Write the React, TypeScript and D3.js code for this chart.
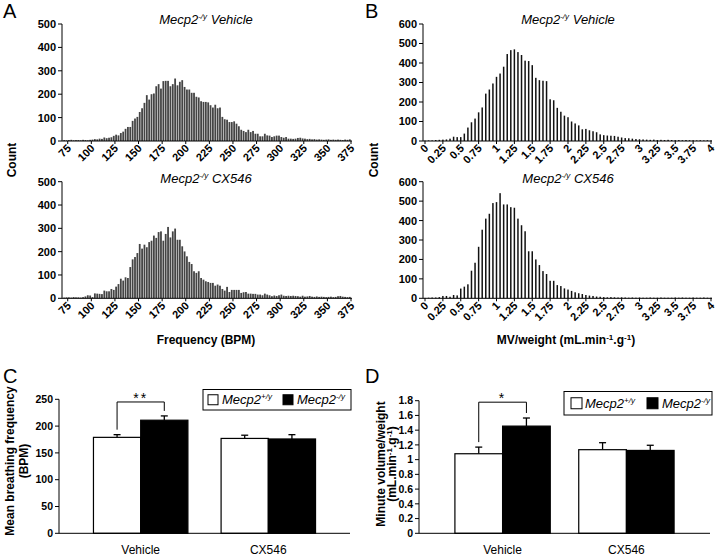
import React from 'react';
import * as d3 from 'd3';

const FONT = "Arial, 'Liberation Sans', Helvetica, sans-serif";

// ---- histogram data (A: breathing frequency, 2.5 BPM bins from 70) ----
const freqBinStart = 70;
const freqBinWidth = 2.5;
const freqTicks = [75, 100, 125, 150, 175, 200, 225, 250, 275, 300, 325, 350, 375];
const countTicksA = [0, 100, 200, 300, 400, 500];

const freqVehicle = [
  4, 3, 4, 5, 3, 4, 4, 3, 5, 4, 3, 5, 6,
  8, 7, 10, 9,
  15, 12, 14, 16, 22, 27, 24, 34, 40, 52, 60, 60,
  86, 96, 103, 124, 140, 163, 196, 177, 200, 203, 234, 243,
  224, 256, 257, 257, 234, 243, 267, 238, 253, 260, 231, 220,
  220, 206, 206, 189, 186, 170, 167, 167, 165, 153, 143, 155,
  140, 143, 103, 93, 91, 81, 81, 84, 74, 63, 48, 43,
  38, 48, 38, 43, 31, 31, 20, 20, 31, 24, 23, 17,
  20, 23, 23, 17, 14, 17, 10, 10, 9, 10, 13, 14,
  11, 10, 8, 9, 7, 8, 6, 7, 6, 5, 6, 7,
  5, 6, 5, 6, 5, 4, 6, 5, 7,
];

const freqCX546 = [
  3, 4, 4, 3, 5, 4, 4, 3, 5,
  8, 13, 12, 5, 21, 20, 19, 18, 33, 30, 30, 40,
  36, 50, 61, 84, 76, 90, 87, 134, 167, 177, 194, 233,
  213, 230, 219, 241, 247, 269, 259, 284, 287, 247, 276, 306,
  261, 287, 299, 251, 251, 223, 201, 180, 156, 147, 116, 109,
  116, 87, 80, 73, 70, 66, 66, 54, 59, 54, 40, 33,
  49, 27, 36, 36, 36, 36, 23, 26, 27, 20, 20, 19,
  19, 16, 16, 13, 20, 16, 13, 9, 12, 10, 13, 16,
  11, 10, 11, 10, 11, 10, 9, 7, 11, 7, 8, 10,
  7, 6, 8, 6, 7, 6, 5, 6, 7, 5, 6, 9,
  10, 7, 6, 5, 6,
];

// ---- histogram data (B: MV/weight, bins centred on multiples of 0.05) ----
const mvBinWidth = 0.05;
const mvTicks = [0, 0.25, 0.5, 0.75, 1, 1.25, 1.5, 1.75, 2, 2.25, 2.5, 2.75, 3, 3.25, 3.5, 3.75, 4];
const countTicksB = [0, 100, 200, 300, 400, 500, 600];

const mvVehicle = [
  2, 3, 3, 5, 6, 7, 8, 12, 22, 20, 20, 38,
  69, 96, 115, 147, 172, 243, 264, 295, 329, 346, 381, 446,
  466, 470, 456, 441, 412, 410, 389, 324, 312, 309, 307, 214,
  209, 170, 150, 130, 122, 100, 90, 80, 60, 62, 55, 50,
  45, 34, 30, 28, 27, 26, 22, 18, 15, 14, 12, 10,
  9, 8, 7, 6, 7, 5, 6, 5, 6, 5, 4, 5,
  4, 5, 4, 4, 3, 4, 3, 4, 3,
];

const mvCX546 = [
  2, 3, 4, 4, 6, 12, 12, 8, 17, 15, 50, 60,
  72, 142, 183, 265, 353, 410, 435, 490, 495, 541, 483, 483,
  469, 466, 410, 376, 345, 242, 242, 200, 171, 140, 125, 90,
  90, 68, 63, 51, 45, 38, 31, 26, 22, 17, 14, 12,
  9, 8, 6, 5, 6, 5, 4, 5, 4, 3, 4, 3,
  4, 3, 3, 4, 3, 3, 4, 3, 3, 3, 4, 3,
  4, 3, 3, 4, 3, 3, 4, 3, 3,
];

// ---- bar charts (C, D) ----
const treatments = ['Vehicle', 'CX546'];
const genotypes = ['wt', 'ko'];

const bpmWT = [179, 177];
const bpmKO = [211, 176];
const bpmWTErr = [5, 6];
const bpmKOErr = [8, 8];
const bpmTicks = [0, 50, 100, 150, 200, 250];
const bpmBracket = 245;

const mvWT = [1.08, 1.135];
const mvKO = [1.455, 1.125];
const mvWTErr = [0.09, 0.095];
const mvKOErr = [0.11, 0.07];
const mvYTicks = [0, 0.2, 0.4, 0.6, 0.8, 1, 1.2, 1.4, 1.6, 1.8];
const mvBracket = 1.78;

function Geno({ sign }: { sign: string }) {
  return (
    <>
      Mecp2<tspan dy={-5} fontSize="0.62em">{sign}/y</tspan>
    </>
  );
}

function Title({ x, y, label }: { x: number; y: number; label: string }) {
  return (
    <text x={x} y={y} textAnchor="middle" fontStyle="italic" fontSize={13}>
      Mecp2<tspan dy={-5} fontSize={8}>-/y</tspan>
      <tspan dy={5}> {label}</tspan>
    </text>
  );
}

type HistProps = {
  values: number[];
  center: (k: number) => number;
  xDomain: [number, number];
  xRange: [number, number];
  axisX: number;
  yMax: number;
  yTicks: number[];
  yRange: [number, number];
  xTicks: number[];
  barW: number;
  fill: string;
};

function Histogram(p: HistProps) {
  const x = d3.scaleLinear().domain(p.xDomain).range(p.xRange);
  const y = d3.scaleLinear().domain([0, p.yMax]).range(p.yRange);
  const y0 = y(0);
  return (
    <g>
      {p.values.map((v, k) => (
        <rect key={k} x={x(p.center(k)) - p.barW / 2} y={y(v)} width={p.barW} height={y0 - y(v)} fill={p.fill} />
      ))}
      <line x1={p.axisX} x2={p.axisX} y1={y0} y2={y(p.yMax)} stroke="#000" strokeWidth={1} />
      {p.yTicks.map((t) => (
        <g key={t}>
          <line x1={p.axisX - 4} x2={p.axisX} y1={y(t)} y2={y(t)} stroke="#000" />
          <text x={p.axisX - 6} y={y(t)} dy="0.36em" textAnchor="end" fontWeight="bold" fontSize={11}>
            {t}
          </text>
        </g>
      ))}
      <line x1={p.axisX} x2={p.xRange[1] + 1} y1={y0} y2={y0} stroke="#000" />
      {p.xTicks.map((t) => {
        const ax = x(t) + 4;
        const ay = y0 + 8;
        return (
          <g key={t}>
            <line x1={x(t)} x2={x(t)} y1={y0} y2={y0 + 3} stroke="#000" />
            <text transform={`rotate(-45, ${ax}, ${ay})`} x={ax} y={ay} textAnchor="end" fontWeight="bold" fontSize={11}>
              {t}
            </text>
          </g>
        );
      })}
    </g>
  );
}

type BarProps = {
  wt: number[];
  ko: number[];
  wtErr: number[];
  koErr: number[];
  axisX: number;
  xEnd: number;
  yRange: [number, number];
  yMax: number;
  yTicks: number[];
  padInner: number;
  padOuter: number;
  bracket: number;
  stars: string;
  box: [number, number, number, number];
  sq: [number, number, number];
  sqSize: number;
};

function BarPanel(p: BarProps) {
  const x = d3.scaleBand<string>().domain(treatments).range([p.axisX, p.xEnd]).paddingInner(p.padInner).paddingOuter(p.padOuter);
  const xs = d3.scaleBand<string>().domain(genotypes).range([0, x.bandwidth()]);
  const y = d3.scaleLinear().domain([0, p.yMax]).range(p.yRange);
  const y0 = y(0);
  const bw = xs.bandwidth();
  const rows = treatments.map((t, i) => ({
    t,
    vals: [
      { g: 'wt', v: p.wt[i], e: p.wtErr[i] },
      { g: 'ko', v: p.ko[i], e: p.koErr[i] },
    ],
  }));
  const lx = (x('Vehicle') ?? 0) + (xs('wt') ?? 0) + bw / 2;
  const rx = (x('Vehicle') ?? 0) + (xs('ko') ?? 0) + bw / 2;
  const yTop = y(p.bracket);
  const [bx0, by0, bx1, by1] = p.box;
  const cy = (by0 + by1) / 2;
  return (
    <g>
      {rows.map((r) =>
        r.vals.map((d) => {
          const bx = (x(r.t) ?? 0) + (xs(d.g) ?? 0);
          const cx = bx + bw / 2;
          return (
            <g key={r.t + d.g}>
              <line x1={cx} x2={cx} y1={y(d.v)} y2={y(d.v + d.e)} stroke="#000" strokeWidth={1.3} />
              <line x1={cx - 3.5} x2={cx + 3.5} y1={y(d.v + d.e)} y2={y(d.v + d.e)} stroke="#000" strokeWidth={1.3} />
              <rect x={bx} y={y(d.v)} width={bw} height={y0 - y(d.v)} fill={d.g === 'wt' ? '#fff' : '#000'} stroke="#000" strokeWidth={1.2} />
            </g>
          );
        })
      )}
      <line x1={p.axisX} x2={p.axisX} y1={y0} y2={y(p.yMax)} stroke="#000" />
      {p.yTicks.map((t) => (
        <g key={t}>
          <line x1={p.axisX - 4} x2={p.axisX} y1={y(t)} y2={y(t)} stroke="#000" />
          <text x={p.axisX - 6} y={y(t)} dy="0.36em" textAnchor="end" fontWeight="bold" fontSize={10.5}>
            {t}
          </text>
        </g>
      ))}
      <line x1={p.axisX} x2={p.xEnd} y1={y0} y2={y0} stroke="#000" />
      {treatments.map((t) => (
        <text key={t} x={(x(t) ?? 0) + x.bandwidth() / 2} y={y0 + 21} textAnchor="middle" fontSize={12}>
          {t}
        </text>
      ))}
      {/* significance bracket */}
      <path
        d={`M${lx},${y(p.wt[0] + p.wtErr[0]) - 5}V${yTop}H${rx}V${y(p.ko[0] + p.koErr[0]) - 5}`}
        fill="none"
        stroke="#000"
        strokeWidth={1}
      />
      <text x={(lx + rx) / 2} y={yTop + 1} textAnchor="middle" fontSize={14} letterSpacing={2}>
        {p.stars}
      </text>
      {/* legend */}
      <rect x={bx0} y={by0} width={bx1 - bx0} height={by1 - by0} fill="#fff" stroke="#000" strokeWidth={1} />
      <rect x={p.sq[0]} y={cy - p.sqSize / 2} width={p.sqSize} height={p.sqSize} fill="#fff" stroke="#000" />
      <text x={p.sq[1]} y={cy + 4.5} fontStyle="italic" fontSize={13}>
        <Geno sign="+" />
      </text>
      <rect x={p.sq[2]} y={cy - p.sqSize / 2} width={p.sqSize} height={p.sqSize} fill="#000" stroke="#000" />
      <text x={p.sq[2] + p.sqSize + 4} y={cy + 4.5} fontStyle="italic" fontSize={13}>
        <Geno sign="-" />
      </text>
    </g>
  );
}

export default function App() {
  const freqCenter = (k: number) => freqBinStart + freqBinWidth * (k + 0.5);
  const mvCenter = (k: number) => mvBinWidth * k;
  return (
    <div style={{ position: 'absolute', left: 0, top: 0 }}>
      <svg width={720} height={558} style={{ display: 'block', background: '#fff', fontFamily: FONT }}>
        {/* panel letters */}
        <text x={3} y={18} fontSize={20}>A</text>
        <text x={365} y={18} fontSize={20}>B</text>
        <text x={3} y={383} fontSize={20}>C</text>
        <text x={365} y={383} fontSize={20}>D</text>

        {/* A */}
        <Title x={206} y={24} label="Vehicle" />
        <Histogram values={freqVehicle} center={freqCenter} xDomain={[70, 375]} xRange={[63, 351]} axisX={62} yMax={500}
          yTicks={countTicksA} yRange={[141, 24]} xTicks={freqTicks} barW={1.8} fill="#444" />
        <Title x={206} y={183} label="CX546" />
        <Histogram values={freqCX546} center={freqCenter} xDomain={[70, 375]} xRange={[63, 351]} axisX={62} yMax={500}
          yTicks={countTicksA} yRange={[298.3, 181.7]} xTicks={freqTicks} barW={1.8} fill="#444" />
        <text transform="translate(16,160) rotate(-90)" textAnchor="middle" fontWeight="bold" fontSize={12}>
          Count
        </text>
        <text x={206} y={344} textAnchor="middle" fontWeight="bold" fontSize={12}>
          Frequency (BPM)
        </text>

        {/* B */}
        <Title x={568} y={24} label="Vehicle" />
        <Histogram values={mvVehicle} center={mvCenter} xDomain={[0, 4]} xRange={[425, 711]} axisX={423} yMax={600}
          yTicks={countTicksB} yRange={[141, 24]} xTicks={mvTicks} barW={1.5} fill="#111" />
        <Title x={568} y={183} label="CX546" />
        <Histogram values={mvCX546} center={mvCenter} xDomain={[0, 4]} xRange={[425, 711]} axisX={423} yMax={600}
          yTicks={countTicksB} yRange={[298.3, 181.7]} xTicks={mvTicks} barW={1.5} fill="#111" />
        <text transform="translate(378,160) rotate(-90)" textAnchor="middle" fontWeight="bold" fontSize={12}>
          Count
        </text>
        <text x={566} y={344} textAnchor="middle" fontWeight="bold" fontSize={12}>
          MV/weight (mL.min<tspan dy={-4} fontSize={8}>-1</tspan><tspan dy={4}>.g</tspan>
          <tspan dy={-4} fontSize={8}>-1</tspan><tspan dy={4}>)</tspan>
        </text>

        {/* C */}
        <BarPanel wt={bpmWT} ko={bpmKO} wtErr={bpmWTErr} koErr={bpmKOErr} axisX={59} xEnd={350} yRange={[533.3, 399.3]}
          yMax={250} yTicks={bpmTicks} padInner={0.26} padOuter={0.27} bracket={bpmBracket} stars="**"
          box={[203, 389.5, 351, 410]} sq={[208, 222, 283]} sqSize={10} />
        <text transform="translate(14,461) rotate(-90)" textAnchor="middle" fontWeight="bold" fontSize={12}>
          Mean breathing frequency
        </text>
        <text transform="translate(28,461) rotate(-90)" textAnchor="middle" fontWeight="bold" fontSize={12}>
          (BPM)
        </text>

        {/* D */}
        <BarPanel wt={mvWT} ko={mvKO} wtErr={mvWTErr} koErr={mvKOErr} axisX={419} xEnd={710} yRange={[533.3, 400.7]}
          yMax={1.8} yTicks={mvYTicks} padInner={0.23} padOuter={0.29} bracket={mvBracket} stars="*"
          box={[564, 391.5, 712, 415]} sq={[571, 585, 647]} sqSize={11} />
        <text transform="translate(385,464) rotate(-90)" textAnchor="middle" fontWeight="bold" fontSize={12}>
          Minute volume/weight
        </text>
        <text transform="translate(396,464) rotate(-90)" textAnchor="middle" fontWeight="bold" fontSize={12}>
          (mL.min<tspan dy={-4} fontSize={8}>-1</tspan><tspan dy={4}>.g</tspan>
          <tspan dy={-4} fontSize={8}>-1</tspan><tspan dy={4}>)</tspan>
        </text>
      </svg>
    </div>
  );
}
